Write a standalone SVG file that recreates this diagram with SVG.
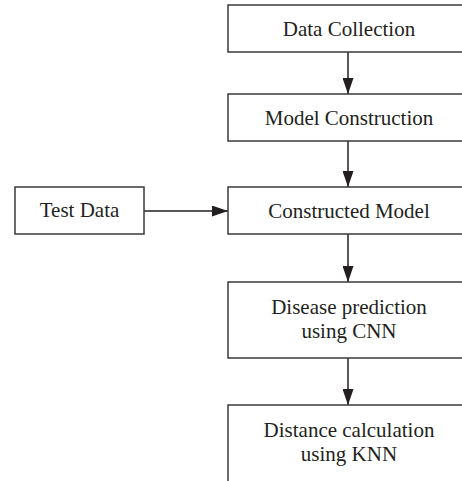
<svg xmlns="http://www.w3.org/2000/svg" width="462" height="481" viewBox="0 0 462 481">
<style>
.box{fill:#fff;stroke:#3a3a3a;stroke-width:1.5}
.t{font-family:"Liberation Serif",serif;font-size:21px;fill:#231f20;text-anchor:middle}
.c{stroke:#231f20;stroke-width:1.5;fill:none}
</style>
<defs>
<marker id="ah" markerWidth="16" markerHeight="11" refX="16" refY="5.5" orient="auto" markerUnits="userSpaceOnUse">
<path d="M0,0 L16,5.5 L0,11 Z" fill="#231f20"/>
</marker>
</defs>
<rect width="462" height="481" fill="#fff"/>
<g id="connectors">
<line class="c" x1="348" y1="52" x2="348" y2="94" marker-end="url(#ah)"/>
<line class="c" x1="348" y1="141" x2="348" y2="187" marker-end="url(#ah)"/>
<line class="c" x1="144" y1="211" x2="228" y2="211" marker-end="url(#ah)"/>
<line class="c" x1="348" y1="234" x2="348" y2="282" marker-end="url(#ah)"/>
<line class="c" x1="348" y1="358" x2="348" y2="405" marker-end="url(#ah)"/>
</g>
<g id="data-collection">
<rect class="box" x="228" y="5" width="244" height="47"/>
<text class="t" x="349" y="35.5">Data Collection</text>
</g>
<g id="model-construction">
<rect class="box" x="228" y="94" width="244" height="47"/>
<text class="t" x="349" y="124.5">Model Construction</text>
</g>
<g id="test-data">
<rect class="box" x="15" y="187" width="129" height="47"/>
<text class="t" x="79.5" y="216.5">Test Data</text>
</g>
<g id="constructed-model">
<rect class="box" x="228" y="187" width="244" height="47"/>
<text class="t" x="349" y="217.5">Constructed Model</text>
</g>
<g id="disease-prediction">
<rect class="box" x="228" y="282" width="244" height="76"/>
<text class="t" x="349" y="314">Disease prediction</text>
<text class="t" x="349" y="338">using CNN</text>
</g>
<g id="distance-calculation">
<rect class="box" x="228" y="405" width="244" height="90"/>
<text class="t" x="349" y="437">Distance calculation</text>
<text class="t" x="349" y="461">using KNN</text>
</g>
</svg>
